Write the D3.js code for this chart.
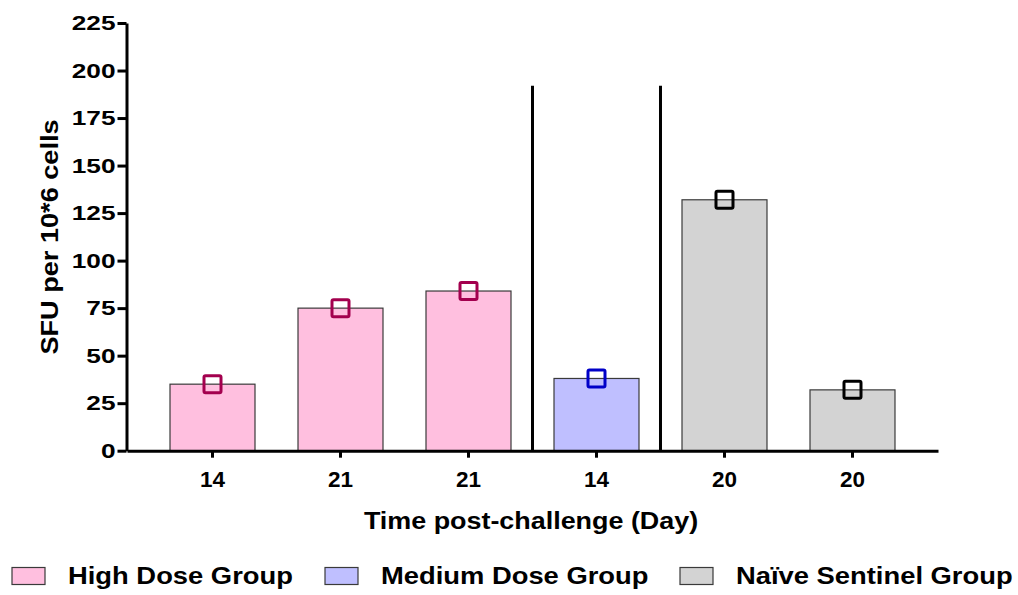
<!DOCTYPE html>
<html>
<head>
<meta charset="utf-8">
<script src="https://cdn.jsdelivr.net/npm/d3@7"></script>
<style>
  html, body { margin: 0; padding: 0; background: #fff; }
  svg { display: block; }
  text { font-family: "Liberation Sans", Arial, sans-serif; font-weight: bold; fill: #000; }
</style>
</head>
<body>
<svg id="chart" width="1018" height="595"></svg>
<script>
// ---- data ----
const dayLabels = ["14", "21", "21", "14", "20", "20"];
const barGroups = ["High", "High", "High", "Medium", "Naive", "Naive"];
const sfuValues = [35, 75, 84, 38, 132, 32];
const yTicks = [0, 25, 50, 75, 100, 125, 150, 175, 200, 225];
const groupNames = ["High Dose Group", "Medium Dose Group", "Naïve Sentinel Group"];
const groupKeys = ["High", "Medium", "Naive"];
const separatorTop = 192;
const yTitle = "SFU per 10*6 cells";
const xTitle = "Time post-challenge (Day)";

// ---- styles ----
const fillColors = { High: "#FFBFDF", Medium: "#BFBFFF", Naive: "#D3D3D3" };
const markerColors = { High: "#A3004E", Medium: "#0000C8", Naive: "#000000" };

const svg = d3.select("#chart");

const y = d3.scaleLinear().domain([0, 225]).range([450.7, 23]);
const x = d3.scaleBand().domain(d3.range(dayLabels.length)).range([127, 938]).padding(0.336);

// bars
svg.append("g").selectAll("rect").data(sfuValues).join("rect")
  .attr("x", (d, i) => x(i))
  .attr("y", d => y(d))
  .attr("width", x.bandwidth())
  .attr("height", d => y(0) - y(d))
  .attr("fill", (d, i) => fillColors[barGroups[i]])
  .attr("stroke", "#3a3a3a")
  .attr("stroke-width", 1.2);

// separators
const seps = [];
for (let i = 1; i < barGroups.length; i++) {
  if (barGroups[i] !== barGroups[i - 1]) seps.push(x(i) - x.step() * x.paddingInner() / 2);
}
svg.append("g").selectAll("line").data(seps).join("line")
  .attr("x1", d => d).attr("x2", d => d)
  .attr("y1", y(separatorTop)).attr("y2", y(0))
  .attr("stroke", "#000").attr("stroke-width", 3);

// markers
const ms = 17;
svg.append("g").selectAll("rect").data(sfuValues).join("rect")
  .attr("x", (d, i) => x(i) + x.bandwidth() / 2 - ms / 2)
  .attr("y", d => y(d) - ms / 2)
  .attr("width", ms).attr("height", ms)
  .attr("rx", 1.5)
  .attr("fill", "none")
  .attr("stroke", (d, i) => markerColors[barGroups[i]])
  .attr("stroke-width", 3);

// y axis
const yAxis = svg.append("g").attr("transform", "translate(126.5,0)")
  .call(d3.axisLeft(y).tickValues(yTicks).tickSize(9).tickSizeOuter(0).tickPadding(4));
yAxis.select(".domain").attr("stroke", "#000").attr("stroke-width", 3);
yAxis.selectAll(".tick line").attr("stroke", "#000").attr("stroke-width", 3);
const ySx = 1.25;
yAxis.selectAll(".tick text")
  .attr("font-size", 21)
  .attr("font-family", "'Liberation Sans', Arial, sans-serif")
  .attr("font-weight", "bold")
  .attr("x", -11 / ySx)
  .attr("transform", `scale(${ySx},1)`);

// x axis
const xAxis = svg.append("g").attr("transform", `translate(0,${y(0)})`)
  .call(d3.axisBottom(x).tickFormat(i => dayLabels[i]).tickSize(7).tickSizeOuter(0).tickPadding(13));
xAxis.select(".domain").attr("stroke", "#000").attr("stroke-width", 3);
xAxis.selectAll(".tick line").attr("stroke", "#000").attr("stroke-width", 3);
xAxis.selectAll(".tick text")
  .attr("font-size", 22.5)
  .attr("font-family", "'Liberation Sans', Arial, sans-serif")
  .attr("font-weight", "bold");

// stretched text helper
function stretched(tx, ty, rot, sx, str, size, anchor) {
  const g = svg.append("g").attr("transform", `translate(${tx},${ty}) rotate(${rot}) scale(${sx},1)`);
  g.append("text").attr("text-anchor", anchor).attr("font-size", size).text(str);
}

// axis titles
stretched(531, 529, 0, 1.17, xTitle, 23, "middle");
stretched(58, 237, -90, 1.18, yTitle, 23, "middle");

// legend
const legendX = [12, 325, 680];
const legend = svg.append("g");
groupKeys.forEach((k, i) => {
  legend.append("rect")
    .attr("x", legendX[i]).attr("y", 567.5)
    .attr("width", 33).attr("height", 17)
    .attr("fill", fillColors[k]).attr("stroke", "#3a3a3a").attr("stroke-width", 1.2);
  stretched(legendX[i] + 56, 584, 0, 1.19, groupNames[i], 23, "start");
});
</script>
</body>
</html>
